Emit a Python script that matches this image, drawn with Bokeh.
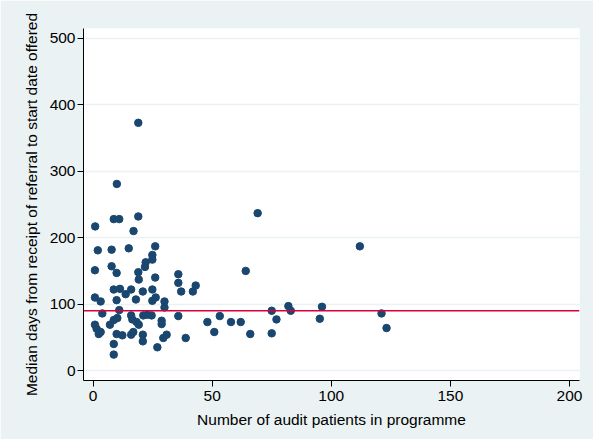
from bokeh.plotting import figure
from bokeh.models import Span, FixedTicker, Range1d, BoxAnnotation
from bokeh.embed import file_html
from bokeh.resources import INLINE

# Data
n_patients = [19.0, 10.0, 8.7, 11.0, 19.0, 0.9, 17.0, 2.0, 7.8, 15.0,
              26.1, 24.9, 24.9, 22.1, 21.8, 0.8, 7.8, 9.9, 19.0, 19.2,
              26.1, 35.8, 35.8, 37.0, 43.1, 41.9, 0.8, 3.2, 8.7, 11.3,
              13.7, 16.0, 9.9, 18.0, 20.9, 24.9, 24.9, 26.3, 30.0, 30.0,
              3.9, 11.0, 0.8, 1.5, 2.4, 3.2, 7.1, 8.7, 10.2, 16.0,
              16.5, 18.3, 19.2, 21.1, 22.8, 24.6, 28.8, 28.8, 35.8, 9.9,
              12.3, 16.0, 16.9, 20.9, 20.9, 29.5, 30.9, 38.9, 8.7, 27.0,
              8.7, 69.1, 112.0, 64.1, 48.0, 50.9, 53.2, 57.9, 62.0, 66.0,
              75.0, 77.0, 75.0, 82.0, 83.0, 96.1, 95.2, 121.1, 123.2]
median_days = [373, 281, 228, 228, 232, 217, 210, 181, 182, 184,
               187, 174, 167, 163, 156, 151, 157, 147, 148, 137,
               140, 145, 132, 119, 128, 119, 110, 104, 122, 123,
               115, 122, 106, 107, 119, 122, 105, 110, 104, 95,
               86, 91, 69, 63, 55, 58, 69, 76, 79, 83,
               77, 73, 69, 83, 84, 83, 75, 70, 82, 55,
               53, 54, 58, 54, 44, 49, 54, 49, 40, 35,
               24, 237, 187, 150, 73, 58, 82, 73, 73, 55,
               90, 77, 56, 97, 90, 96, 78, 86, 64]
reference_days = 90
x_ticks = [0, 50, 100, 150, 200]
y_ticks = [0, 100, 200, 300, 400, 500]
x_title = "Number of audit patients in programme"
y_title = "Median days from receipt of referral to start date offered"

FONT = "Liberation Sans"
BG = "#EAF2F3"

p = figure(width=593, height=439,
           x_range=Range1d(-4, 204.2), y_range=Range1d(-15, 515),
           output_backend="svg", toolbar_location=None,
           min_border_left=83, min_border_right=14,
           min_border_top=28, min_border_bottom=59)

p.background_fill_color = "white"
p.border_fill_color = BG
p.outline_line_color = None

# outer white margin and black frame lines (canvas units)
for l, r, t, b, c in ((0, 10, 0, 439, "white"), (0, 593, 0, 12, "white"),
                      (3, 5, 5, 439, "black"), (3, 593, 5, 7, "black")):
    p.add_layout(BoxAnnotation(left=l, right=r, top=t, bottom=b,
                               left_units="canvas", right_units="canvas",
                               top_units="canvas", bottom_units="canvas",
                               fill_color=c, fill_alpha=1, line_color=None))

p.xgrid.visible = False
p.ygrid.grid_line_color = BG
p.ygrid.grid_line_width = 1.5

for ax, ticks in ((p.xaxis[0], x_ticks), (p.yaxis[0], y_ticks)):
    ax.ticker = FixedTicker(ticks=ticks)
    ax.minor_tick_line_color = None
    ax.major_tick_in = 0
    ax.major_tick_out = 6
    ax.major_tick_line_color = "black"
    ax.axis_line_color = "black"
    ax.major_label_text_font = FONT
    ax.major_label_text_font_size = "15.5px"
    ax.major_label_text_color = "black"
    ax.axis_label_text_font = FONT
    ax.axis_label_text_font_size = "15.5px"
    ax.axis_label_text_font_style = "normal"
    ax.axis_label_text_color = "black"

p.xaxis.axis_label = x_title
p.yaxis.axis_label = y_title
p.xaxis.major_label_standoff = 4
p.yaxis.major_label_standoff = 2
p.xaxis.axis_label_standoff = 7
p.yaxis.axis_label_standoff = 7

p.add_layout(Span(location=reference_days, dimension="width",
                  line_color="#D6003A", line_width=1.5))

p.scatter(n_patients, median_days, size=7.5, marker="circle",
          fill_color="#1A476F", line_color="#1A476F")

open("out.html", "w").write(file_html(p, INLINE))
